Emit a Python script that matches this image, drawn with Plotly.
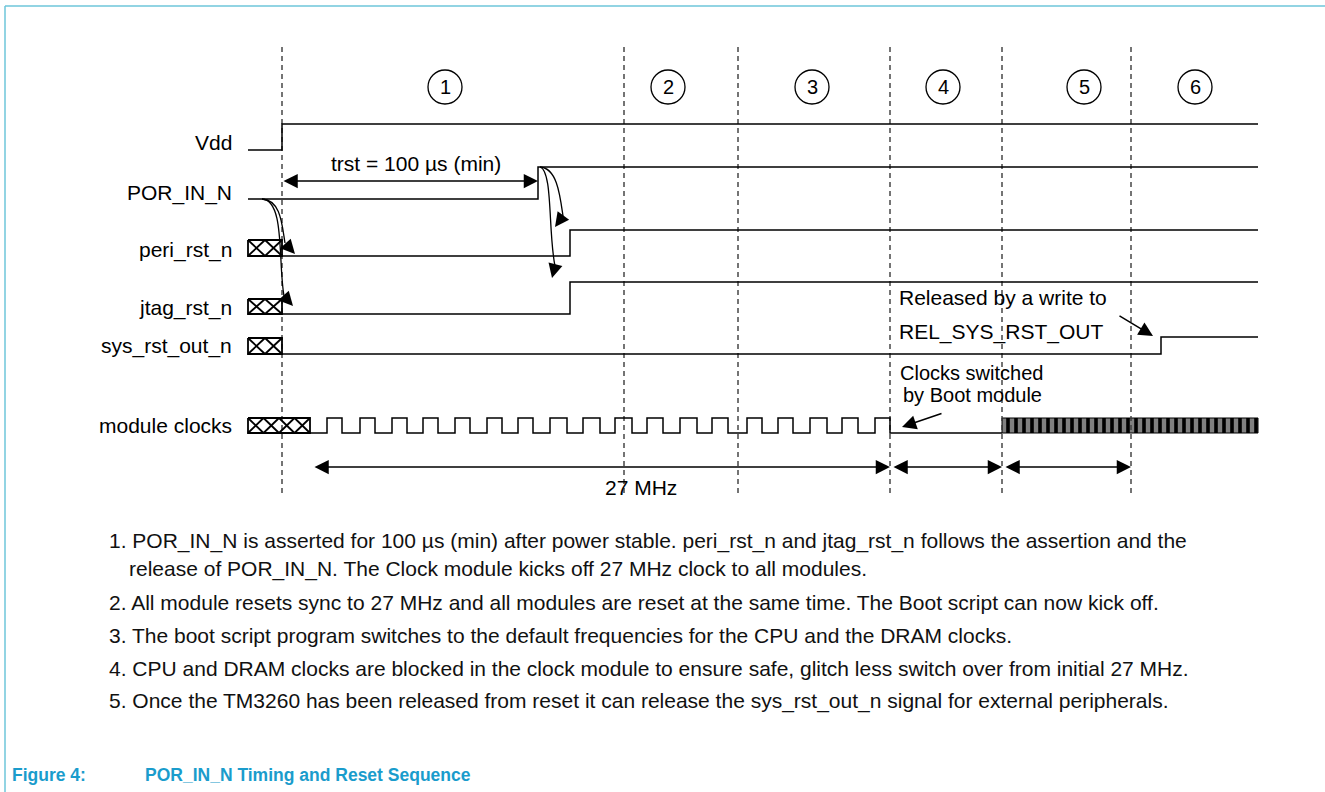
import plotly.graph_objects as go

W, H = 1325, 792

# ---------------- data ----------------
phase_edges = [282, 624, 738, 890, 1002, 1131]
phase_numbers = ["1", "2", "3", "4", "5", "6"]
phase_centers = [445, 668, 812, 943, 1084, 1195]

signal_names = ["Vdd", "POR_IN_N", "peri_rst_n", "jtag_rst_n", "sys_rst_out_n", "module clocks"]

vdd_t = [248, 282, 282, 1258]
vdd_lvl = [0, 0, 1, 1]
por_t = [248, 538, 538, 1258]
por_lvl = [0, 0, 1, 1]
peri_t = [282, 570, 570, 1258]
peri_lvl = [0, 0, 1, 1]
jtag_t = [282, 570, 570, 1258]
jtag_lvl = [0, 0, 1, 1]
sys_t = [282, 1161, 1161, 1258]
sys_lvl = [0, 0, 1, 1]

unknown_start = [None, None, 248, 248, 248, 248]
unknown_end = [None, None, 282, 282, 282, 310]
unknown_cells = [0, 0, 2, 2, 2, 4]

clk_start = 310
clk_rise = [327, 360, 392, 423, 455, 487, 518, 550, 583, 615, 647, 680, 712, 747, 778, 810, 842, 875]
clk_fall = [342, 375, 407, 438, 470, 502, 533, 567, 600, 632, 663, 697, 728, 762, 793, 827, 858, 890]
clk_stopped_until = 1002
fast_clk_span = [1002, 1258]

trst_span = [282, 538]
trst_label = "trst = 100 µs (min)"
mhz_span = [313, 890]
mhz_label = "27 MHz"
phase4_span = [890, 1002]
phase5_span = [1002, 1131]

notes = [
    "1. POR_IN_N is asserted for 100 µs (min) after power stable. peri_rst_n and jtag_rst_n follows the assertion and the",
    "release of POR_IN_N. The Clock module kicks off 27 MHz clock to all modules.",
    "2. All module resets sync to 27 MHz and all modules are reset at the same time. The Boot script can now kick off.",
    "3. The boot script program switches to the default frequencies for the CPU and the DRAM clocks.",
    "4. CPU and DRAM clocks are blocked in the clock module to ensure safe, glitch less switch over from initial 27 MHz.",
    "5. Once the TM3260 has been released from reset it can release the sys_rst_out_n signal for external peripherals.",
]
title_num = "Figure 4:"
title_text = "POR_IN_N Timing and Reset Sequence"

# ---------------- layout geometry ----------------
row_low = [150, 199, 256, 314, 354, 433]
row_high = [124, 167, 230, 282, 337, 418]
box_top = [None, None, 240, 299, 338, 418]
label_y = [142, 193, 250, 308, 346, 425]
label_x = 234
note_x = [107, 127, 107, 107, 107, 107]
note_y = [541, 569, 602, 635, 668, 701]

FONT = "Liberation Sans, Arial, Helvetica, sans-serif"
BLACK = "#000000"
TEAL = "#1a9ccc"
BORDER = "#6ec6da"

fig = go.Figure()


def lvl_to_y(i, lv):
    return [row_low[i] - v * (row_low[i] - row_high[i]) for v in lv]


def add_line(x, y, width=1.5, color=BLACK, dash=None):
    fig.add_trace(go.Scatter(x=x, y=y, mode="lines", hoverinfo="skip", showlegend=False,
                             line=dict(color=color, width=width, dash=dash)))


# dashed phase boundaries
for xe in phase_edges:
    add_line([xe, xe], [47, 497], width=1.4, color="#3a3a3a", dash="5px,4px")

# waveforms
waves = [(vdd_t, vdd_lvl), (por_t, por_lvl), (peri_t, peri_lvl), (jtag_t, jtag_lvl), (sys_t, sys_lvl)]
for i, (t, lv) in enumerate(waves):
    add_line(t, lvl_to_y(i, lv), width=1.5)

# unknown-state (crossed) boxes
for i in range(len(signal_names)):
    if not unknown_cells[i]:
        continue
    x0, x1 = unknown_start[i], unknown_end[i]
    y0, y1 = box_top[i], row_low[i]
    xs = [x0, x1, x1, x0, x0, None]
    ys = [y0, y0, y1, y1, y0, None]
    n = unknown_cells[i]
    w = (x1 - x0) / n
    for k in range(n):
        a = x0 + k * w
        b = a + w
        xs += [a, b, None, a, b, None]
        ys += [y0, y1, None, y1, y0, None]
    add_line(xs, ys, width=1.8)

# module clock (27 MHz section + stopped section)
ci = 5
cx, cy = [clk_start], [row_low[ci]]
for r, f in zip(clk_rise, clk_fall):
    cx += [r, r, f, f]
    cy += [row_low[ci], row_high[ci], row_high[ci], row_low[ci]]
cx.append(clk_stopped_until)
cy.append(row_low[ci])
add_line(cx, cy, width=1.5)

# fast clock after switch-over
fig.add_trace(go.Bar(
    x=[fast_clk_span[1] - fast_clk_span[0]], base=[fast_clk_span[0]],
    y=[(row_low[ci] + row_high[ci]) / 2], width=[row_low[ci] - row_high[ci]],
    orientation="h", showlegend=False, hoverinfo="skip",
    marker=dict(color="#000000", line=dict(color="#000000", width=1),
                pattern=dict(shape="|", fgcolor="#ffffff", bgcolor="#000000", size=8, solidity=0.55)),
))

annotations = []
shapes = []

# phase number circles
for xc, num in zip(phase_centers, phase_numbers):
    shapes.append(dict(type="circle", xref="x", yref="y", x0=xc - 17, x1=xc + 17, y0=70, y1=104,
                       line=dict(color=BLACK, width=1.3)))
    annotations.append(dict(x=xc, y=87, text=num, showarrow=False, xanchor="center", yanchor="middle",
                            font=dict(family=FONT, size=20, color=BLACK)))

# signal labels
for name, yl in zip(signal_names, label_y):
    annotations.append(dict(x=label_x, y=yl, text=name, showarrow=False, xanchor="right", yanchor="middle",
                            font=dict(family=FONT, size=21, color=BLACK)))


def arrow(tip, tail, both=False):
    annotations.append(dict(x=tip[0], y=tip[1], ax=tail[0], ay=tail[1], xref="x", yref="y",
                            axref="x", ayref="y", text="", showarrow=True, arrowhead=2,
                            arrowsize=1.9, arrowwidth=1.5, arrowcolor=BLACK,
                            arrowside="end+start" if both else "end", startarrowhead=2,
                            startarrowsize=1.9))


# span arrows
arrow((trst_span[1], 181), (trst_span[0], 181), both=True)
arrow((mhz_span[1], 467), (mhz_span[0], 467), both=True)
arrow((phase4_span[1], 467), (phase4_span[0] + 2, 467), both=True)
arrow((phase5_span[1], 467), (phase5_span[0] + 2, 467), both=True)

annotations.append(dict(x=416, y=163, text=trst_label, showarrow=False,
                        xanchor="center", yanchor="middle", font=dict(family=FONT, size=21, color=BLACK)))
annotations.append(dict(x=641, y=487, text=mhz_label, showarrow=False, xanchor="center", yanchor="middle",
                        font=dict(family=FONT, size=21, color=BLACK)))

# causality curves
curves = [
    ("M262,199 C281,200 282,225 285,243", (295, 254), (285, 243)),
    ("M262,199 C285,200 278,262 284,296", (293, 306), (284, 296)),
    ("M540,167 C557,168 560,195 563,216", (555, 227), (563, 216)),
    ("M540,167 C553,171 548,232 555,266", (552, 278), (555, 266)),
]
for path, tip, tail in curves:
    shapes.append(dict(type="path", xref="x", yref="y", path=path, line=dict(color=BLACK, width=1.3)))
    arrow(tip, tail)

# callouts
annotations.append(dict(x=897, y=297, text="Released by a write to", showarrow=False, xanchor="left",
                        yanchor="middle", font=dict(family=FONT, size=21, color=BLACK)))
annotations.append(dict(x=897, y=332, text="REL_SYS_RST_OUT", showarrow=False, xanchor="left",
                        yanchor="middle", font=dict(family=FONT, size=21, color=BLACK)))
arrow((1153, 336), (1118, 315))
annotations.append(dict(x=898, y=373, text="Clocks switched", showarrow=False, xanchor="left",
                        yanchor="middle", font=dict(family=FONT, size=20, color=BLACK)))
annotations.append(dict(x=901, y=395, text="by Boot module", showarrow=False, xanchor="left",
                        yanchor="middle", font=dict(family=FONT, size=20, color=BLACK)))
arrow((902, 427), (943, 413))

# notes
for txt, xn, yn in zip(notes, note_x, note_y):
    annotations.append(dict(x=xn, y=yn, text=txt, showarrow=False, xanchor="left", yanchor="middle",
                            font=dict(family=FONT, size=21, color="#111111")))

# title
TFONT = dict(family=FONT, size=17.5, color=TEAL)
annotations.append(dict(x=10, y=775, text="<b>" + title_num + "</b>", showarrow=False, xanchor="left",
                        yanchor="middle", font=TFONT))
annotations.append(dict(x=143, y=775, text="<b>" + title_text + "</b>", showarrow=False, xanchor="left",
                        yanchor="middle", font=TFONT))

# frame
shapes.append(dict(type="line", xref="x", yref="y", x0=5, x1=W, y0=6, y1=6, line=dict(color=BORDER, width=1.5)))
shapes.append(dict(type="line", xref="x", yref="y", x0=5, x1=5, y0=6, y1=H, line=dict(color=BORDER, width=1.5)))

fig.update_layout(
    width=W, height=H, margin=dict(l=0, r=0, t=0, b=0),
    paper_bgcolor="white", plot_bgcolor="white",
    xaxis=dict(range=[0, W], visible=False, fixedrange=True),
    yaxis=dict(range=[H, 0], visible=False, fixedrange=True),
    showlegend=False, annotations=annotations, shapes=shapes, bargap=0,
)

fig.write_html("out.html", config={"displayModeBar": False, "staticPlot": True},
               post_script="document.body.style.margin='0';")
